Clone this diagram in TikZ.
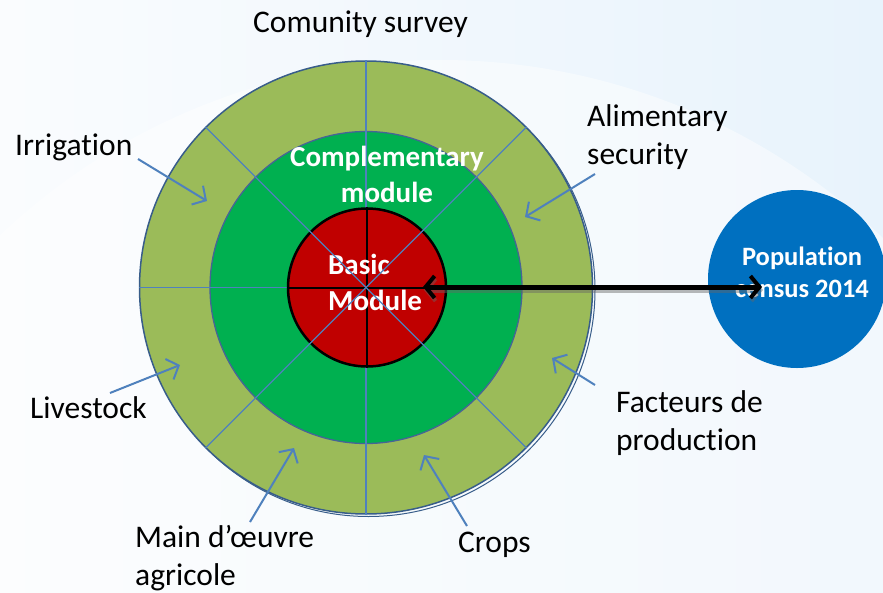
\documentclass[tikz,border=0pt]{standalone}
\usepackage{fontspec}
\setmainfont{Carlito}[Ligatures=NoCommon]
\usetikzlibrary{arrows.meta}
\definecolor{lgreen}{RGB}{155,187,89}
\definecolor{dgreen}{RGB}{0,176,80}
\definecolor{dred}{RGB}{192,0,0}
\definecolor{pblue}{RGB}{0,112,192}
\definecolor{lblue}{RGB}{79,129,189}
\definecolor{edge}{RGB}{56,93,138}
\definecolor{midedge}{RGB}{70,100,150}
\definecolor{bgleft}{RGB}{250,252,254}
\definecolor{bgright}{RGB}{232,243,252}
\begin{document}
\begin{tikzpicture}[x=1pt,y=-1pt,
  lbl/.style={font=\fontsize{31.5}{38}\selectfont, align=left, inner sep=0pt, text=black, anchor=base west},
  wlbl/.style={font=\fontsize{29}{36}\selectfont\bfseries, inner sep=0pt, text=white},
  plbl/.style={font=\fontsize{26.5}{32}\selectfont\bfseries, inner sep=0pt, text=white, align=center, anchor=base},
  ring/.style={circle, inner sep=0pt},
  ptr/.style={draw=lblue, line width=2pt, -{Straight Barb[length=10pt,width=22pt,line width=2pt]}},
  spoke/.style={draw=lblue, line width=1.3pt},
  inner/.style={draw=black, line width=2pt},
  link/.style={line width=5pt, {Straight Barb[length=9pt,width=22pt,line width=4pt]}-{Straight Barb[length=9pt,width=22pt,line width=4pt]}}
]
% background
\useasboundingbox (0,0) rectangle (883,592);
\shade[left color=bgleft, right color=bgright] (0,0) rectangle (883,592);
\fill[white, opacity=0.45] (440,700) ellipse (640 and 640);

% second outline of the outer ring
\draw[edge, line width=1pt] (368.5,290) circle (226.5);
% rings
\node[ring, minimum size=453pt, fill=lgreen, draw=edge, line width=1.5pt] (outer) at (366,287.5) {};
\node[ring, minimum size=312pt, fill=dgreen, draw=midedge, line width=1.3pt] (mid) at (366,287.5) {};
% vertical and horizontal spokes
\draw[spoke] (outer.north) -- (outer.south);
\draw[spoke] (outer.west) -- (outer.east);
% basic module
\node[ring, minimum size=158pt, fill=dred, draw=black, line width=2.5pt] (basic) at (367,287.5) {};
\draw[inner] (basic.north) -- (basic.south);
\draw[inner] (basic.west) -- (basic.east);

% population census
\node[ring, minimum size=178pt, fill=pblue] (census) at (797,279) {};

% white texts (anchor = baseline of last line)
\node[wlbl, align=center, anchor=base] (compl) at (387,202) {Complementary\\module};
\node[wlbl, align=left, anchor=base west] (basictxt) at (328,310) {Basic\\Module};
\node[plbl] (poptxt) at (802,297) {Population\\census 2014};

% diagonal spokes
\draw[spoke] (outer.north west) -- (outer.south east);
\draw[spoke] (outer.north east) -- (outer.south west);

% black double arrow with shadow
\coordinate (la) at (423,287);
\coordinate (lb) at (762,287);
\draw[link, black!60, opacity=0.45] ([shift={(1,3)}]la) -- ([shift={(1,3)}]lb);
\draw[link, black] (la) -- (lb);

% outer labels (anchor = baseline of last line)
\node[lbl] (survey) at (253,32) {Comunity survey};
\node[lbl] (irr) at (15,155) {Irrigation};
\node[lbl] (alim) at (587,164) {Alimentary\\security};
\node[lbl] (live) at (30,418) {Livestock};
\node[lbl] (fact) at (616,450) {Facteurs de\\production};
\node[lbl] (main) at (135,585) {Main d’œuvre\\agricole};
\node[lbl] (crops) at (458,552) {Crops};

% pointer arrows
\coordinate (irrS) at (138,159); \coordinate (irrT) at (207,201);
\coordinate (alimS) at (595,174); \coordinate (alimT) at (525,217);
\coordinate (liveS) at (110,393); \coordinate (liveT) at (180,365);
\coordinate (mainS) at (250,522); \coordinate (mainT) at (294,448);
\coordinate (cropS) at (467,526); \coordinate (cropT) at (424,455);
\coordinate (factS) at (595,385); \coordinate (factT) at (552,358);
\draw[ptr] (irrS) -- (irrT);
\draw[ptr] (alimS) -- (alimT);
\draw[ptr] (liveS) -- (liveT);
\draw[ptr] (mainS) -- (mainT);
\draw[ptr] (cropS) -- (cropT);
\draw[ptr] (factS) -- (factT);
\end{tikzpicture}
\end{document}
